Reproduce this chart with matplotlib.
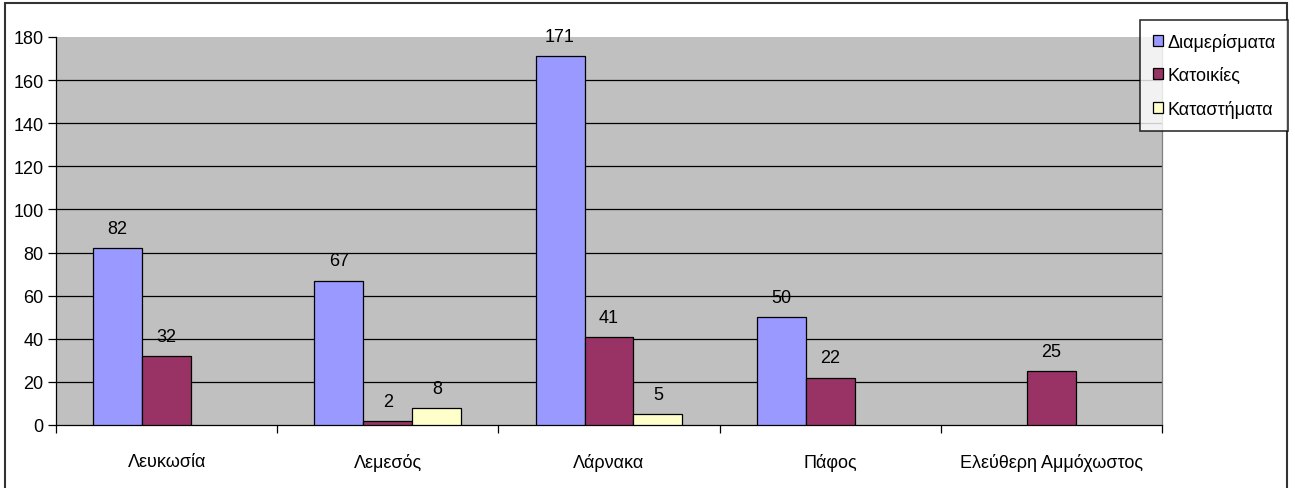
import numpy as np
import matplotlib
matplotlib.use("Agg")
import matplotlib.pyplot as plt
from matplotlib.patches import Rectangle, Patch

plt.rcParams['font.family'] = ['Liberation Sans', 'DejaVu Sans']

categories = ["Λευκωσία", "Λεμεσός", "Λάρνακα", "Πάφος", "Ελεύθερη Αμμόχωστος"]
series_names = ["Διαμερίσματα", "Κατοικίες", "Καταστήματα"]
apartments = [82, 67, 171, 50, np.nan]
houses = [32, 2, 41, 22, 25]
shops = [np.nan, 8, 5, np.nan, np.nan]
colors = ["#9999FF", "#993366", "#FFFFCC"]
yticks = [0, 20, 40, 60, 80, 100, 120, 140, 160, 180]

FS = 13
W, H = 1295, 489
fig = plt.figure(figsize=(W / 100, H / 100), dpi=100)
ax = fig.add_axes([56 / W, 1 - 426 / H, (1162 - 56) / W, (426 - 38) / H])
ax.set_facecolor("#C0C0C0")

x = np.arange(len(categories))
bw = 0.2215
for i, (vals, col) in enumerate(zip([apartments, houses, shops], colors)):
    xs = x + (i - 1) * bw
    vals = np.array(vals, dtype=float)
    present = ~np.isnan(vals)
    ax.bar(xs[present], vals[present], width=bw, color=col, edgecolor="black",
           linewidth=0.9, zorder=3)
    for xi, v in zip(xs[present], vals[present]):
        ax.annotate(f"{int(v)}", (xi, v), xytext=(0, 8), textcoords="offset points",
                    ha="center", va="bottom", fontsize=FS, zorder=4)

ax.set_xlim(-0.5, len(categories) - 0.5)
ax.set_ylim(0, 180)
ax.set_yticks(yticks)
ax.set_yticklabels([str(t) for t in yticks], fontsize=FS)
for t in yticks[1:-1]:
    ax.axhline(t, color="black", linewidth=0.9, zorder=1)

# category boundaries as tick marks, labels centered between them
ax.set_xticks(np.arange(len(categories) + 1) - 0.5)
ax.set_xticklabels([])
ax.set_xticks(x, minor=True)
ax.set_xticklabels(categories, minor=True, fontsize=FS)
ax.tick_params(axis="x", which="minor", length=0, pad=20)
ax.tick_params(axis="x", which="major", length=6, width=0.9, direction="out")
ax.tick_params(axis="y", length=6, width=0.9, direction="out", pad=3)

ax.spines["top"].set_visible(False)
ax.spines["right"].set_color("#808080")
ax.spines["left"].set_color("black")
ax.spines["bottom"].set_color("black")
for s in ax.spines.values():
    s.set_linewidth(0.9)

handles = [Patch(facecolor=c, edgecolor="black", linewidth=0.9) for c in colors]
leg = fig.legend(handles, series_names, loc="upper right",
                 bbox_to_anchor=(1288 / W, 1 - 21 / H), fontsize=FS,
                 frameon=True, fancybox=False, handlelength=0.55, handleheight=0.55,
                 handletextpad=0.25, borderpad=0.7, labelspacing=0.9, borderaxespad=0)
leg.get_frame().set_edgecolor("black")
leg.get_frame().set_linewidth(1.2)

fig.patches.append(Rectangle((5 / W, -0.02), 1282 / W, (H - 4) / H + 0.02,
                             transform=fig.transFigure, fill=False,
                             edgecolor="#333333", linewidth=1.5))

fig.savefig("out.png", dpi=100, facecolor="white")
